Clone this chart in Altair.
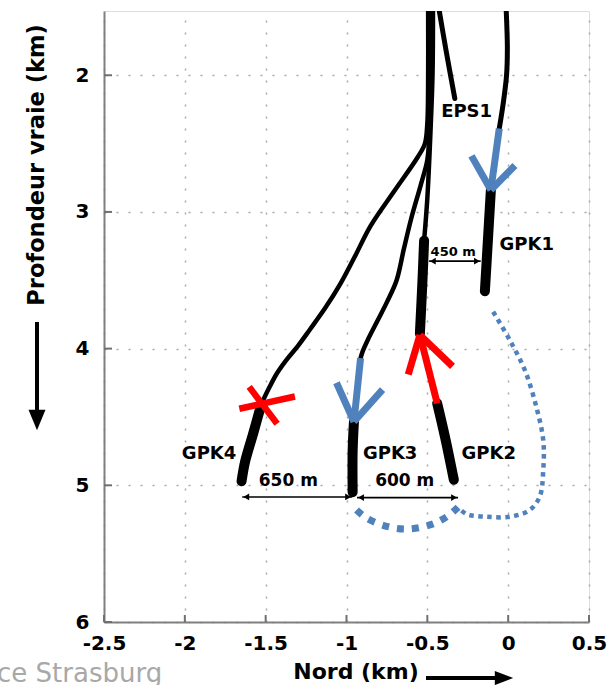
import altair as alt
import pandas as pd

# ---------------- data (x = Nord km, y = depth km) ----------------
X_DOMAIN = [-2.5, 0.5]
Y_DOMAIN = [1.53, 6.0]
x_ticks = [-2.5, -2, -1.5, -1, -0.5, 0, 0.5]
y_ticks = [2, 3, 4, 5, 6]

# well trajectories
gpk4_thin_x = [-0.495, -0.495, -0.50, -0.515, -0.56, -0.70, -0.85, -0.95, -1.04, -1.13, -1.226, -1.30, -1.37, -1.43, -1.48, -1.525]
gpk4_thin_y = [1.53, 2.0, 2.35, 2.5, 2.6, 2.84, 3.1, 3.33, 3.53, 3.7, 3.86, 3.98, 4.08, 4.18, 4.29, 4.40]
gpk4_thick_x = [-1.525, -1.577, -1.628, -1.649]
gpk4_thick_y = [4.40, 4.62, 4.83, 4.97]

gpk3_thin_x = [-0.48, -0.48, -0.487, -0.50, -0.54, -0.60, -0.645, -0.69, -0.75, -0.81, -0.87, -0.90, -0.913]
gpk3_thin_y = [1.53, 2.0, 2.4, 2.62, 2.8, 3.05, 3.27, 3.5, 3.66, 3.80, 3.94, 4.02, 4.07]
gpk3_thick_x = [-0.954, -0.962, -0.962]
gpk3_thick_y = [4.535, 4.75, 5.05]

gpk2_thin_x = [-0.465, -0.468, -0.48, -0.50, -0.52]
gpk2_thin_y = [1.53, 2.0, 2.4, 2.9, 3.21]
gpk2_thick1_x = [-0.52, -0.53, -0.546]
gpk2_thick1_y = [3.21, 3.5, 3.89]
gpk2_thick2_x = [-0.439, -0.39, -0.336]
gpk2_thick2_y = [4.40, 4.65, 4.96]

gpk1_thin_x = [-0.012, -0.005, -0.01, -0.03, -0.055]
gpk1_thin_y = [1.53, 1.8, 2.0, 2.2, 2.39]
gpk1_thick_x = [-0.107, -0.125, -0.144]
gpk1_thick_y = [2.84, 3.2, 3.58]

eps1_x = [-0.426, -0.381, -0.33]
eps1_y = [1.53, 1.84, 2.17]

# injection / production arrows
gpk1_arrow_x = [[-0.055, -0.107], [-0.227, -0.107], [0.042, -0.107]]
gpk1_arrow_y = [[2.39, 2.84], [2.59, 2.84], [2.66, 2.84]]
gpk3_arrow_x = [[-0.913, -0.954], [-1.062, -0.954], [-0.777, -0.954]]
gpk3_arrow_y = [[4.07, 4.535], [4.25, 4.535], [4.30, 4.535]]
gpk2_arrow_x = [[-0.439, -0.546], [-0.618, -0.546], [-0.344, -0.546]]
gpk2_arrow_y = [[4.40, 3.90], [4.19, 3.90], [4.13, 3.90]]
gpk4_cross_x = [[-1.663, -1.319], [-1.602, -1.429]]
gpk4_cross_y = [[4.44, 4.35], [4.28, 4.55]]

# blue dotted circulation path
flow_thin_x = [-0.093, 0.011, 0.104, 0.175, 0.217, 0.217, 0.196, 0.134, 0.011, -0.134, -0.258, -0.31]
flow_thin_y = [3.73, 3.94, 4.16, 4.43, 4.67, 4.89, 5.08, 5.18, 5.23, 5.23, 5.21, 5.16]
flow_thick_x = [-0.31, -0.38, -0.484, -0.628, -0.752, -0.876, -0.938]
flow_thick_y = [5.16, 5.23, 5.29, 5.32, 5.30, 5.24, 5.18]

# distance arrows
dist_x1 = [-1.645, -0.935, -0.489]
dist_x2 = [-0.965, -0.31, -0.170]
dist_y = [5.085, 5.09, 3.36]
head_x = [-1.62, -0.99, -0.91, -0.335, -0.466, -0.193]
head_y = [5.085, 5.085, 5.09, 5.09, 3.36, 3.36]
head_shape = ["triangle-left", "triangle-right", "triangle-left", "triangle-right", "triangle-left", "triangle-right"]

# text labels
lab_text = ["GPK4", "GPK3", "GPK2", "GPK1", "EPS1", "650 m", "600 m", "450 m"]
lab_x = [-1.85, -0.73, -0.12, 0.115, -0.257, -1.36, -0.64, -0.34]
lab_y = [4.77, 4.77, 4.77, 3.24, 2.27, 4.97, 4.97, 3.29]
lab_size = [18, 18, 18, 18, 18, 17, 17, 13]

BLACK = "#000000"
BLUE = "#4f81bd"
RED = "#ff0000"

# ---------------- build tables ----------------
def seg_rows(name, xs, ys, w, c):
    return [dict(seg=name, i=i, x=x, y=y, w=w, c=c) for i, (x, y) in enumerate(zip(xs, ys))]

thin_rows = []
thin_rows += seg_rows("gpk4", gpk4_thin_x, gpk4_thin_y, 4.5, BLACK)
thin_rows += seg_rows("gpk3", gpk3_thin_x, gpk3_thin_y, 4.5, BLACK)
thin_rows += seg_rows("gpk2", gpk2_thin_x, gpk2_thin_y, 4.5, BLACK)
thin_rows += seg_rows("gpk1", gpk1_thin_x, gpk1_thin_y, 5, BLACK)
thin_rows += seg_rows("eps1", eps1_x, eps1_y, 5, BLACK)
thick_rows = []
thick_rows += seg_rows("gpk4t", gpk4_thick_x, gpk4_thick_y, 10, BLACK)
thick_rows += seg_rows("gpk3t", gpk3_thick_x, gpk3_thick_y, 10, BLACK)
thick_rows += seg_rows("gpk2t1", gpk2_thick1_x, gpk2_thick1_y, 10, BLACK)
thick_rows += seg_rows("gpk2t2", gpk2_thick2_x, gpk2_thick2_y, 10, BLACK)
thick_rows += seg_rows("gpk1t", gpk1_thick_x, gpk1_thick_y, 10, BLACK)

arrow_rows = []
for k, (xs, ys) in enumerate(zip(gpk1_arrow_x, gpk1_arrow_y)):
    arrow_rows += seg_rows(f"a1_{k}", xs, ys, 7, BLUE)
for k, (xs, ys) in enumerate(zip(gpk3_arrow_x, gpk3_arrow_y)):
    arrow_rows += seg_rows(f"a3_{k}", xs, ys, 7, BLUE)
for k, (xs, ys) in enumerate(zip(gpk2_arrow_x, gpk2_arrow_y)):
    arrow_rows += seg_rows(f"a2_{k}", xs, ys, 7, RED)
for k, (xs, ys) in enumerate(zip(gpk4_cross_x, gpk4_cross_y)):
    arrow_rows += seg_rows(f"x4_{k}", xs, ys, 6.5, RED)

thin_df = pd.DataFrame(thin_rows)
thick_df = pd.DataFrame(thick_rows)
arrow_df = pd.DataFrame(arrow_rows)
flow_thin_df = pd.DataFrame(seg_rows("ft", flow_thin_x, flow_thin_y, 4.5, BLUE))
flow_thick_df = pd.DataFrame(seg_rows("fk", flow_thick_x, flow_thick_y, 7, BLUE))
dist_df = pd.DataFrame({"x": dist_x1, "x2": dist_x2, "y": dist_y})
head_df = pd.DataFrame({"x": head_x, "y": head_y, "shape": head_shape})
lab_df = pd.DataFrame({"t": lab_text, "x": lab_x, "y": lab_y, "s": lab_size})
xt_df = pd.DataFrame({"x": x_ticks})
yt_df = pd.DataFrame({"y": y_ticks})
one = pd.DataFrame({"t": ["Nord (km)"]})

# ---------------- encodings ----------------
FONT = "DejaVu Sans"
xscale = alt.Scale(domain=X_DOMAIN, nice=False, zero=False)
yscale = alt.Scale(domain=Y_DOMAIN, nice=False, zero=False, reverse=True)

axis_common = dict(
    domain=True, domainColor="#808080", domainWidth=2, ticks=False,
    grid=True, gridColor="#a8a8a8", gridDash=[2, 10], gridWidth=1.5,
    labelFont=FONT, labelFontWeight="bold", labelFontSize=20, labelColor="black",
    labelFlush=False, labelOverlap=False, labelExpr="'' + datum.value", title=None,
)
X = alt.X("x:Q", scale=xscale, axis=alt.Axis(values=x_ticks, labelPadding=11, **axis_common))
Y = alt.Y("y:Q", scale=yscale, axis=alt.Axis(values=[2, 3, 4, 5, 6], labelPadding=15, **axis_common))

def line_layer(df, **mk):
    return alt.Chart(df).mark_line(clip=True, **mk).encode(
        x=X, y=Y, detail="seg:N", order="i:Q",
        size=alt.Size("w:Q", scale=None, legend=None),
        color=alt.Color("c:N", scale=None, legend=None),
    )

thin = line_layer(thin_df, strokeCap="round", strokeJoin="round", interpolate="catmull-rom")
thick = line_layer(thick_df, strokeCap="round", strokeJoin="round", interpolate="catmull-rom")
arrows = line_layer(arrow_df, strokeCap="butt")
flow_t = line_layer(flow_thin_df, strokeDash=[4.5, 4.5], strokeCap="butt", interpolate="catmull-rom")
flow_k = line_layer(flow_thick_df, strokeDash=[7, 8], strokeCap="butt", interpolate="catmull-rom")

xtick_marks = alt.Chart(xt_df).mark_rule(color="#707070", strokeWidth=2).encode(
    x=alt.X("x:Q", scale=xscale), y=alt.value(611), y2=alt.value(604))
ytick_marks = alt.Chart(yt_df).mark_rule(color="#707070", strokeWidth=2).encode(
    y=alt.Y("y:Q", scale=yscale), x=alt.value(0), x2=alt.value(8))

dist = alt.Chart(dist_df).mark_rule(color="black", strokeWidth=1.6).encode(
    x=alt.X("x:Q", scale=xscale), x2="x2:Q", y=alt.Y("y:Q", scale=yscale))
heads = alt.Chart(head_df).mark_point(filled=True, opacity=1, color="black", size=45).encode(
    x=alt.X("x:Q", scale=xscale), y=alt.Y("y:Q", scale=yscale),
    shape=alt.Shape("shape:N", scale=None, legend=None))

labels = alt.Chart(lab_df).mark_text(font=FONT, fontWeight="bold", color="black").encode(
    x=alt.X("x:Q", scale=xscale), y=alt.Y("y:Q", scale=yscale), text="t:N",
    size=alt.Size("s:Q", scale=None, legend=None))

# axis titles with arrows (pixel positions relative to plot area)
xtitle = alt.Chart(one).mark_text(font=FONT, fontWeight="bold", fontSize=22, color="black").encode(
    x=alt.value(252), y=alt.value(661), text="t:N")
xarrow = alt.Chart(one).mark_rule(color="black", strokeWidth=4).encode(
    x=alt.value(322), x2=alt.value(394), y=alt.value(667))
xhead = alt.Chart(one).mark_point(shape="M-1.3,-1L1.3,0L-1.3,1Z", filled=True, opacity=1,
                                  color="black", size=200).encode(x=alt.value(400), y=alt.value(667))
ytitle = alt.Chart(pd.DataFrame({"t": ["Profondeur vraie (km)"]})).mark_text(
    font=FONT, fontWeight="bold", fontSize=22.5, color="black", angle=270).encode(
    x=alt.value(-67), y=alt.value(154), text="t:N")
yarrow = alt.Chart(one).mark_rule(color="black", strokeWidth=4).encode(
    x=alt.value(-67), y=alt.value(311), y2=alt.value(400))
yhead = alt.Chart(one).mark_point(shape="M-1,-1.2L1,-1.2L0,1.2Z", filled=True, opacity=1,
                                  color="black", size=289).encode(x=alt.value(-67), y=alt.value(409))
watermark = alt.Chart(pd.DataFrame({"t": ["ce Strasburg"]})).mark_text(
    font="DejaVu Sans", fontSize=26, color="#a8a8a8", align="left", baseline="alphabetic").encode(
    x=alt.value(-107), y=alt.value(671), text="t:N")

base = alt.Chart(thin_df).mark_line(opacity=0).encode(x=X, y=Y, detail="seg:N")

chart = alt.layer(
    base, flow_t, flow_k, thin, thick, arrows, dist, heads, labels,
    xtick_marks, ytick_marks, xtitle, xarrow, xhead, ytitle, yarrow, yhead, watermark,
).properties(
    width=485, height=611,
    autosize=alt.AutoSizeParams(type="none"),
    padding={"left": 104, "top": 11, "right": 27, "bottom": 63},
).configure_view(stroke=None).configure(background="white")

chart.save("out.html", embed_options={"renderer": "svg", "actions": False})
